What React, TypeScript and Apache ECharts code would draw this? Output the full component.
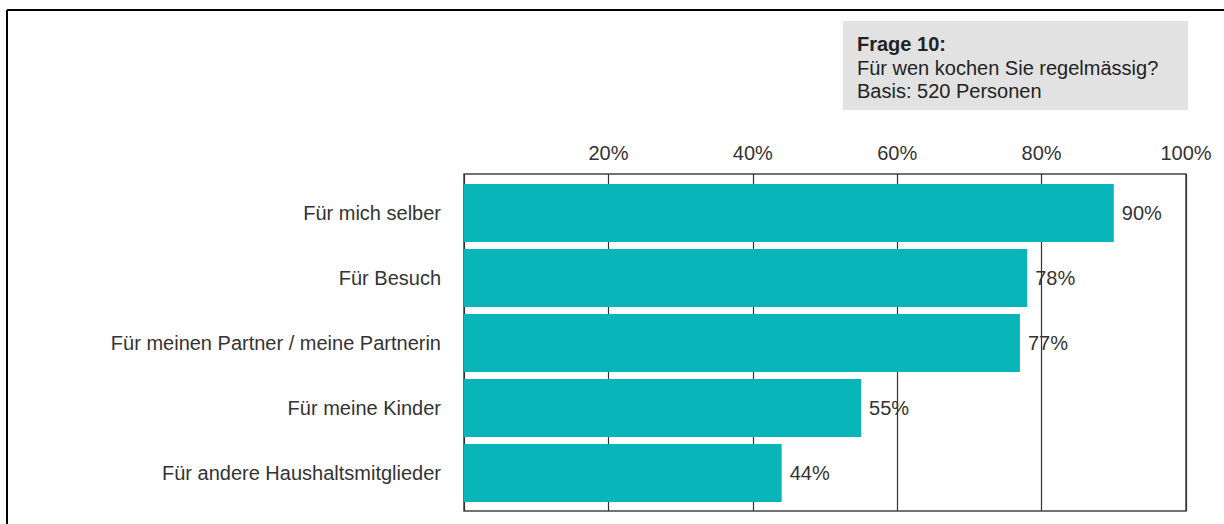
import React, { useEffect, useRef } from "react";
import * as echarts from "echarts";

const categories = [
  "Für mich selber",
  "Für Besuch",
  "Für meinen Partner / meine Partnerin",
  "Für meine Kinder",
  "Für andere Haushaltsmitglieder",
];
const values = [90, 78, 77, 55, 44];
const tickValues = [0, 20, 40, 60, 80, 100];
const infoLines = ["Frage 10:", "Für wen kochen Sie regelmässig?", "Basis: 520 Personen"];

const FONT = "Liberation Sans, Arial, sans-serif";
const FS = 20;

export default function App() {
  const ref = useRef<HTMLDivElement>(null);
  useEffect(() => {
    const chart = echarts.init(ref.current!, null, { renderer: "svg" });
    const plotLeft = 464, plotTop = 174, plotW = 722, plotH = 337;
    chart.setOption({
      animation: false,
      grid: [
        { left: plotLeft, top: plotTop, width: plotW, height: plotH, show: true, borderColor: "#444", borderWidth: 1.5, backgroundColor: "transparent" },
        { left: plotLeft, top: 180.5, width: plotW, height: 325 },
      ],
      xAxis: [
        {
          gridIndex: 0, type: "value", position: "top", min: tickValues[0], max: tickValues[tickValues.length - 1], interval: 20,
          axisLine: { show: false }, axisTick: { show: false },
          splitLine: { show: true, lineStyle: { color: "#333", width: 1.2 } },
          axisLabel: { color: "#333", fontSize: FS, fontFamily: FONT, margin: 11, formatter: (v: number) => (v === 0 ? "" : v + "%") },
        },
        { gridIndex: 1, type: "value", min: 0, max: 100, show: false },
      ],
      yAxis: [
        { gridIndex: 0, type: "value", show: false, min: 0, max: 1 },
        {
          gridIndex: 1, type: "category", data: categories, inverse: true,
          axisLine: { show: false }, axisTick: { show: false }, splitLine: { show: false },
          axisLabel: { color: "#333", fontSize: FS, fontFamily: FONT, margin: 23 },
        },
      ],
      series: [
        {
          type: "bar", xAxisIndex: 1, yAxisIndex: 1, data: values, barCategoryGap: "11%",
          itemStyle: { color: "#08b6b9" },
          label: { show: true, position: "right", distance: 8, formatter: "{c}%", color: "#333", fontSize: FS, fontFamily: FONT },
          z: 3,
        },
      ],
      graphic: [
        { type: "line", shape: { x1: 7, y1: 10, x2: 1224, y2: 10 }, style: { stroke: "#000", lineWidth: 2 } },
        { type: "line", shape: { x1: 7, y1: 10, x2: 7, y2: 524 }, style: { stroke: "#000", lineWidth: 2 } },
        { type: "rect", shape: { x: 843, y: 21, width: 345, height: 89 }, style: { fill: "#e2e2e2" } },
        ...infoLines.map((t, i) => ({
          type: "text", x: 857, y: 44 + i * 23.5,
          style: { text: t, fill: "#222", font: `${i === 0 ? "bold " : ""}${FS}px ${FONT}`, textVerticalAlign: "middle" },
        })),
      ],
    });
    return () => chart.dispose();
  }, []);
  return <div ref={ref} style={{ position: "absolute", left: 0, top: 0, width: 1224, height: 524, background: "#fff" }} />;
}
